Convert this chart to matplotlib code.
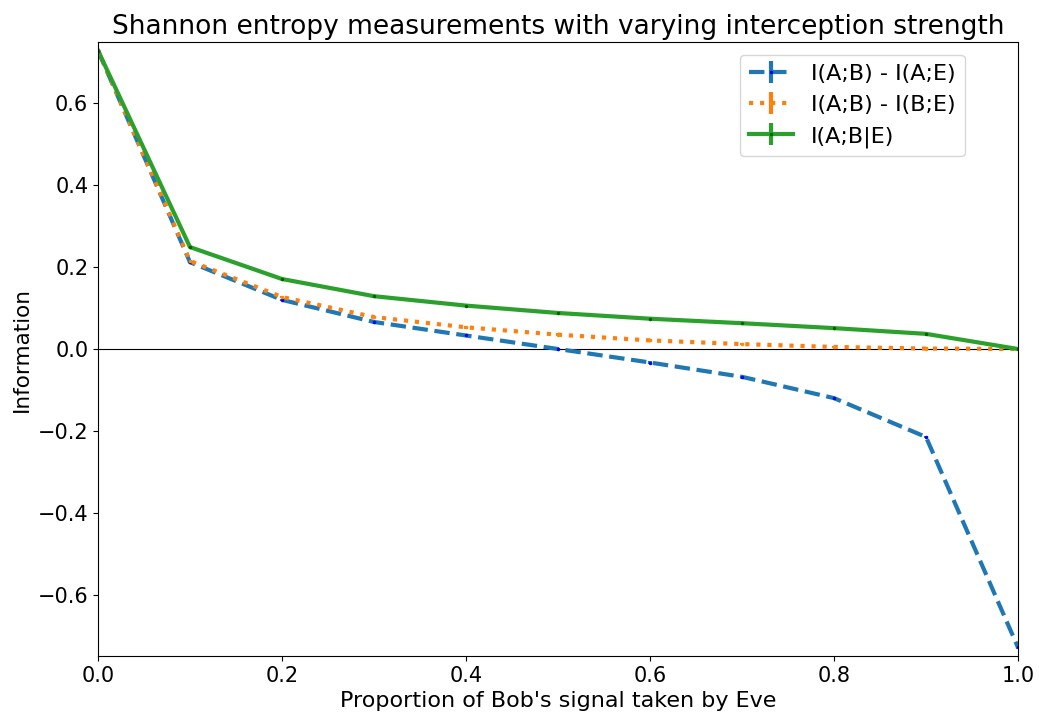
import numpy as np
from matplotlib import pyplot as plt

# proportion of Bob's signal intercepted
p = [0.0, 0.1, 0.2, 0.3, 0.4, 0.5, 0.6, 0.7, 0.8, 0.9, 1.0]

# information measures
ab_minus_ae = [0.729, 0.212, 0.120, 0.066, 0.033, 0.000, -0.033, -0.068, -0.120, -0.215, -0.729]
ab_minus_be = [0.729, 0.215, 0.127, 0.078, 0.053, 0.035, 0.021, 0.012, 0.005, 0.001, 0.000]
ab_given_e = [0.729, 0.249, 0.171, 0.129, 0.106, 0.088, 0.074, 0.063, 0.051, 0.037, 0.000]

# tiny error bars
err = [0.003] * len(p)

plt.rcParams['font.size'] = 15

fig = plt.figure(figsize=(10.39, 7.13), dpi=100)
ax = fig.add_axes([98 / 1039, 1 - 656 / 713, 920 / 1039, 614 / 713])

ax.axhline(0, color='black', linewidth=0.8)
ax.errorbar(p, ab_minus_ae, yerr=err, color='tab:blue', linestyle='--', linewidth=3,
            marker='.', markersize=3, markerfacecolor='blue', markeredgecolor='blue',
            label='I(A;B) - I(A;E)')
ax.errorbar(p, ab_minus_be, yerr=err, color='tab:orange', linestyle=':', linewidth=3,
            marker='.', markersize=3, markerfacecolor='darkorange', markeredgecolor='darkorange',
            label='I(A;B) - I(B;E)')
ax.errorbar(p, ab_given_e, yerr=err, color='tab:green', linestyle='-', linewidth=3,
            marker='.', markersize=3, markerfacecolor='darkgreen', markeredgecolor='darkgreen',
            label='I(A;B|E)')

ax.set_xlim(0, 1)
ax.set_ylim(-0.75, 0.75)
ax.set_title('Shannon entropy measurements with varying interception strength', fontsize=19)
ax.set_xlabel("Proportion of Bob's signal taken by Eve", fontsize=16)
ax.set_ylabel('Information', fontsize=15.5)
ax.legend(loc='upper right', bbox_to_anchor=(0.942, 0.979), borderaxespad=0, fontsize=16)

plt.savefig('out.png')
